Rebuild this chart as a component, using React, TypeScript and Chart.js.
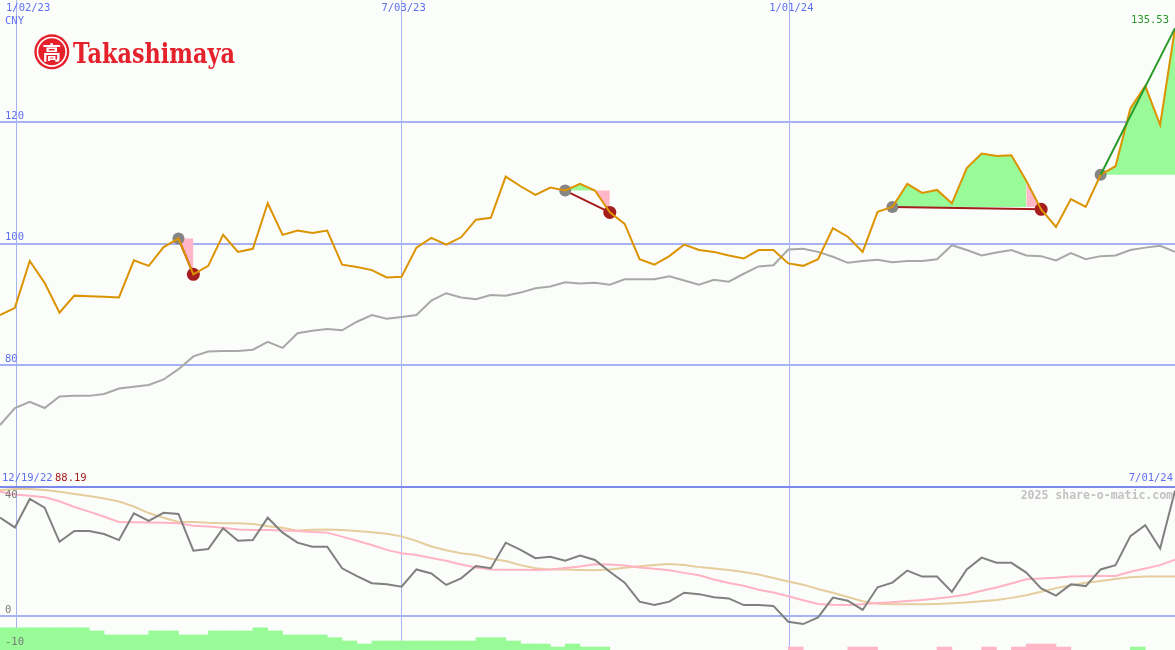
import { useEffect, useRef } from 'react';
import { Chart, registerables } from 'chart.js';

Chart.register(...registerables);

// ---------- data (weekly points, index 0 .. 79) ----------
const priceCNY = [
  88.3, 89.5, 97.2, 93.6, 88.7, 91.5, 91.4, 91.3, 91.2, 97.3,
  96.4, 99.5, 100.9, 95.0, 96.4, 101.5, 98.7, 99.2, 106.7, 101.5,
  102.2, 101.8, 102.2, 96.6, 96.2, 95.7, 94.5, 94.6, 99.4, 101.0,
  99.9, 101.1, 104.0, 104.3, 111.1, 109.5, 108.1, 109.3, 108.8, 109.9,
  108.8, 105.2, 103.3, 97.5, 96.6, 98.0, 99.9, 99.0, 98.7, 98.1,
  97.6, 99.0, 99.0, 96.8, 96.4, 97.5, 102.6, 101.2, 98.7, 105.3,
  106.1, 109.9, 108.4, 108.9, 106.7, 112.5, 114.9, 114.5, 114.6, 110.4,
  105.7, 102.8, 107.4, 106.1, 111.4, 112.8, 122.3, 126.0, 119.6, 135.53,
];

const benchmarkIndex = [
  70.2, 73.0, 74.0, 73.0, 74.9, 75.0, 75.0, 75.3, 76.2, 76.5,
  76.8, 77.7, 79.4, 81.5, 82.3, 82.4, 82.4, 82.6, 83.9, 82.9,
  85.3, 85.7, 86.0, 85.8, 87.2, 88.3, 87.7, 88.0, 88.3, 90.7,
  91.9, 91.2, 90.9, 91.6, 91.5, 92.0, 92.7, 93.0, 93.7, 93.5,
  93.6, 93.3, 94.2, 94.2, 94.2, 94.7, 94.0, 93.3, 94.1, 93.8,
  95.1, 96.3, 96.5, 99.1, 99.2, 98.7, 97.9, 96.9, 97.2, 97.4,
  97.0, 97.2, 97.2, 97.5, 99.8, 99.0, 98.1, 98.6, 99.0, 98.1,
  98.0, 97.3, 98.5, 97.5, 98.0, 98.1, 99.0, 99.4, 99.7, 98.7,
];

const momentum = [
  34.1, 30.7, 40.6, 37.6, 25.7, 29.5, 29.5, 28.4, 26.3, 35.6,
  33.0, 35.8, 35.4, 22.6, 23.2, 30.4, 26.1, 26.3, 34.1, 28.9,
  25.4, 24.0, 24.0, 16.5, 13.8, 11.3, 10.9, 10.1, 16.1, 14.7,
  10.7, 13.0, 17.3, 16.5, 25.4, 22.9, 20.0, 20.5, 19.1, 20.9,
  19.4, 15.3, 11.5, 4.9, 3.7, 4.9, 8.0, 7.5, 6.4, 6.0,
  3.7, 3.7, 3.4, -2.1, -2.9, -0.6, 6.3, 5.2, 2.0, 9.9,
  11.5, 15.7, 13.6, 13.6, 8.3, 16.1, 20.2, 18.4, 18.4, 15.0,
  9.5, 7.0, 10.9, 10.3, 16.1, 17.6, 27.7, 31.5, 23.4, 43.5,
];

const momentumFastAvg = [
  43.1, 42.2, 41.7, 41.2, 39.8, 37.8, 36.2, 34.4, 32.6, 32.5,
  32.4, 32.3, 32.2, 31.3, 31.0, 30.6, 30.0, 29.8, 29.8, 29.6,
  29.5, 29.1, 28.9, 27.5, 26.1, 24.6, 22.9, 21.7, 21.1, 20.1,
  19.1, 17.8, 16.8, 16.1, 16.0, 16.0, 15.9, 16.1, 16.6, 17.1,
  17.9, 17.8, 17.5, 16.8, 16.3, 15.8, 14.9, 14.1, 12.6, 11.4,
  10.4, 9.0, 8.1, 6.8, 5.4, 4.1, 3.8, 3.7, 4.0, 4.4,
  4.7, 5.1, 5.5, 6.0, 6.6, 7.4, 8.7, 9.8, 11.2, 12.7,
  12.9, 13.2, 13.6, 13.7, 13.8, 13.8, 15.3, 16.4, 17.6, 19.5,
];

const momentumSlowAvg = [
  43.7, 44.1, 44.1, 43.7, 43.1, 42.3, 41.6, 40.8, 39.7, 38.0,
  35.7, 34.1, 32.6, 32.6, 32.3, 32.2, 32.2, 31.9, 31.1, 30.6,
  29.6, 29.9, 30.0, 29.8, 29.5, 29.0, 28.5, 27.6, 26.0, 24.1,
  22.8, 21.7, 21.1, 19.8, 19.0, 17.6, 16.5, 16.1, 16.1, 15.9,
  15.8, 16.1, 16.7, 17.2, 17.6, 18.0, 17.6, 16.9, 16.4, 15.9,
  15.2, 14.3, 13.1, 11.9, 10.8, 9.3, 8.0, 6.5, 5.0, 4.2,
  4.0, 4.0, 4.0, 4.1, 4.3, 4.6, 5.0, 5.5, 6.2, 7.1,
  8.3, 9.6, 10.6, 11.5, 12.1, 12.8, 13.4, 13.6, 13.6, 13.6,
];

const greenBarTop: (number | null)[] = [
  -4.2, -4.2, -4.2, -4.2, -4.2, -4.2, -5.3, -6.7, -6.7, -6.7,
  -5.3, -5.3, -6.7, -6.7, -5.3, -5.3, -5.3, -4.2, -5.3, -6.7,
  -6.7, -6.7, -7.65, -8.8, -9.85, -8.8, -8.8, -8.8, -8.8, -8.8,
  -8.8, -8.8, -7.65, -7.65, -8.8, -9.85, -9.85, -10.9, -9.85, -10.9,
  -10.9, null, null, null, null, null, null, null, null, null,
  null, null, null, null, null, null, null, null, null, null,
  null, null, null, null, null, null, null, null, null, null,
  null, null, null, null, null, null, -10.9, null, null, null,
];

const pinkBarTop: (number | null)[] = [
  null, null, null, null, null, null, null, null, null, null,
  null, null, null, null, null, null, null, null, null, null,
  null, null, null, null, null, null, null, null, null, null,
  null, null, null, null, null, null, null, null, null, null,
  null, null, null, null, null, null, null, null, null, null,
  null, null, null, -10.9, null, null, null, -10.9, -10.9, null,
  null, null, null, -10.9, null, null, -10.9, null, -10.9, -9.85,
  -9.85, -10.9, null, null, null, null, null, null, null, null,
];

const buyIdx = [12, 38, 60, 74];
const sellIdx = [13, 41, 70];

const priceTicks = [80, 100, 120];
const oscTicks = [40, 0, -10];
const dateTickPos = [1.11, 27.0, 53.07];
const dateTickLabels = ['1/02/23', '7/03/23', '1/01/24'];
const currencyLabel = 'CNY';
const startDateLabel = '12/19/22';
const startValueLabel = '88.19';
const endDateLabel = '7/01/24';
const lastPriceLabel = '135.53';
const watermark = '2025 share-o-matic.com';
const brand = 'Takashimaya';

// ---------- style ----------
const W = 1175;
const TOP_H = 487;
const BOT_TOP = 470;
const BOT_H = 180;
const BOT_PAD = 17;
const PRICE_MIN = 60;
const PRICE_MAX = 140.16;
const OSC_MIN = -11.93;
const OSC_MAX = 44.77;
const BAR_BASE = -12.5;

const BG = '#fbfdfa';
const GRID = '#a6b2f4';
const GRID_DARK = '#7c88ec';
const LABEL_BLUE = '#5f6ff2';
const ORANGE = '#dc9300';
const BENCH = '#a8a8a8';
const DARK = '#808080';
const PINK_LINE = '#ffb3c4';
const TAN_LINE = '#e6cd9e';
const GREEN_FILL = '#98fb98';
const PINK_FILL = '#ffb6c6';
const RED_DOT = '#a51d1d';
const GRAY_DOT = '#858585';
const TREND_GREEN = '#2a9a2a';
const BRAND_RED = '#e5212b';
const MONO = '"DejaVu Sans Mono", monospace';

const pts = (arr: number[], from: number, to: number) => {
  const out: { x: number; y: number }[] = [];
  for (let i = from; i <= to; i++) out.push({ x: i, y: arr[i] });
  return out;
};

const lineDs = (data: any[], color: string, order: number, width = 2) => ({
  type: 'line',
  data,
  borderColor: color,
  borderWidth: width,
  pointRadius: 0,
  tension: 0,
  fill: false,
  order,
});

const fillDs = (from: number, to: number, level: number, color: string) => ({
  type: 'line',
  data: pts(priceCNY, from, to),
  borderColor: 'rgba(0,0,0,0)',
  borderWidth: 0,
  pointRadius: 0,
  tension: 0,
  fill: { target: { value: level }, above: color, below: color },
  order: 5,
});

const xScaleOpts = () => ({
  type: 'linear',
  min: 0,
  max: priceCNY.length - 1,
  offset: false,
  ticks: { display: false },
  border: { display: false },
  grid: { color: GRID, lineWidth: 1, drawTicks: false, offset: false },
  afterBuildTicks: (s: any) => {
    s.ticks = dateTickPos.map((v) => ({ value: v }));
  },
});

const topPlugin = {
  id: 'topText',
  afterDraw(chart: any) {
    const { ctx } = chart;
    const xs = chart.scales.x;
    const ys = chart.scales.y;
    ctx.save();
    ctx.font = `10.5px ${MONO}`;
    ctx.textBaseline = 'middle';
    ctx.fillStyle = LABEL_BLUE;
    dateTickPos.forEach((p, k) => {
      const w = ctx.measureText(dateTickLabels[k]).width;
      let left = xs.getPixelForValue(p) + 2 - w / 2;
      if (left < 6) left = 6;
      ctx.textAlign = 'left';
      ctx.fillText(dateTickLabels[k], left, 8.5);
    });
    ctx.textAlign = 'left';
    ctx.fillText(currencyLabel, 5, 21);
    priceTicks.forEach((v) => {
      ctx.fillText(String(v), 5, ys.getPixelForValue(v) - 6.5);
    });
    const last = priceCNY.length - 1;
    ctx.fillStyle = TREND_GREEN;
    ctx.textAlign = 'right';
    ctx.fillText(lastPriceLabel, xs.getPixelForValue(last) - 6, ys.getPixelForValue(priceCNY[last]) - 8);

    // brand logo
    const cx = 51.8, cy = 51.8;
    ctx.fillStyle = BRAND_RED;
    ctx.beginPath();
    ctx.arc(cx, cy, 17.5, 0, Math.PI * 2);
    ctx.fill();
    ctx.strokeStyle = '#ffffff';
    ctx.lineWidth = 1.6;
    ctx.beginPath();
    ctx.arc(cx, cy, 14.3, 0, Math.PI * 2);
    ctx.stroke();
    ctx.fillStyle = '#ffffff';
    ctx.font = 'bold 19px "Noto Sans CJK JP", sans-serif';
    ctx.textAlign = 'center';
    ctx.textBaseline = 'middle';
    ctx.fillText('高', cx, cy + 1);
    ctx.fillStyle = BRAND_RED;
    ctx.font = 'bold 27px "DejaVu Serif", serif';
    ctx.textAlign = 'left';
    ctx.textBaseline = 'alphabetic';
    const bw = ctx.measureText(brand).width;
    ctx.translate(73, 62.7);
    ctx.scale(162 / bw, 1.05);
    ctx.fillText(brand, 0, 0);
    ctx.restore();
  },
};

const bottomPlugin = {
  id: 'bottomText',
  afterDraw(chart: any) {
    const { ctx } = chart;
    const ys = chart.scales.y;
    ctx.save();
    ctx.font = `10.5px ${MONO}`;
    ctx.textBaseline = 'middle';
    ctx.textAlign = 'left';
    ctx.fillStyle = LABEL_BLUE;
    ctx.fillText(startDateLabel, 2, 8.5);
    ctx.fillStyle = RED_DOT;
    ctx.fillText(startValueLabel, 55, 8.5);
    ctx.fillStyle = LABEL_BLUE;
    ctx.textAlign = 'right';
    ctx.fillText(endDateLabel, 1173, 8.5);
    ctx.fillStyle = '#c2c2c2';
    ctx.font = `bold 11.5px ${MONO}`;
    ctx.fillText(watermark, 1173, 26);
    ctx.font = `10.5px ${MONO}`;
    ctx.textAlign = 'left';
    ctx.fillStyle = '#7a7a7a';
    oscTicks.forEach((v) => {
      const py = ys.getPixelForValue(v);
      ctx.fillText(String(v), 5, v < 0 ? py - 2.5 : py - 5.5);
    });
    ctx.restore();
  },
};

export default function App() {
  const topRef = useRef<HTMLCanvasElement | null>(null);
  const botRef = useRef<HTMLCanvasElement | null>(null);

  useEffect(() => {
    const last = priceCNY.length - 1;
    const openBuy = buyIdx[buyIdx.length - 1];

    const topDatasets: any[] = [];
    topDatasets.push(lineDs([{ x: openBuy, y: priceCNY[openBuy] }, { x: last, y: priceCNY[last] }], TREND_GREEN, 0));
    topDatasets.push(lineDs(pts(priceCNY, 0, last), ORANGE, 1));
    topDatasets.push({
      type: 'line',
      data: sellIdx.map((i) => ({ x: i, y: priceCNY[i] })),
      showLine: false,
      pointRadius: 6.5,
      pointBackgroundColor: RED_DOT,
      pointBorderWidth: 0,
      order: 2,
    });
    topDatasets.push({
      type: 'line',
      data: buyIdx.map((i) => ({ x: i, y: priceCNY[i] })),
      showLine: false,
      pointRadius: 6,
      pointBackgroundColor: GRAY_DOT,
      pointBorderWidth: 0,
      order: 3,
    });
    sellIdx.forEach((s, k) => {
      const b = buyIdx[k];
      topDatasets.push(lineDs([{ x: b, y: priceCNY[b] }, { x: s, y: priceCNY[s] }], RED_DOT, 4));
    });
    buyIdx.forEach((b, k) => {
      const level = priceCNY[b];
      const s = sellIdx[k];
      if (s === undefined) {
        topDatasets.push(fillDs(b, last, level, GREEN_FILL));
      } else {
        if (s - 1 > b) topDatasets.push(fillDs(b, s - 1, level, GREEN_FILL));
        topDatasets.push(fillDs(s - 1, s, level, PINK_FILL));
      }
    });
    topDatasets.push(lineDs(pts(benchmarkIndex, 0, last), BENCH, 6));

    const top = new Chart(topRef.current as HTMLCanvasElement, {
      type: 'line',
      data: { datasets: topDatasets },
      options: {
        animation: false,
        responsive: false,
        devicePixelRatio: 1,
        events: [],
        layout: { padding: 0, autoPadding: false },
        plugins: { legend: { display: false }, tooltip: { enabled: false } },
        scales: {
          x: xScaleOpts() as any,
          y: {
            type: 'linear',
            min: PRICE_MIN,
            max: PRICE_MAX,
            ticks: { display: false },
            border: { display: false },
            grid: { color: GRID, lineWidth: 2, drawTicks: false },
            afterBuildTicks: (s: any) => {
              s.ticks = priceTicks.map((v) => ({ value: v }));
            },
          } as any,
        },
      } as any,
      plugins: [topPlugin],
    } as any);

    const barData = (arr: (number | null)[]) =>
      arr
        .map((v, i) => (v === null ? null : { x: i + 0.5, y: [BAR_BASE, v] }))
        .filter((d) => d !== null);

    const bot = new Chart(botRef.current as HTMLCanvasElement, {
      type: 'line',
      data: {
        datasets: [
          lineDs(pts(momentum, 0, last), DARK, 0),
          lineDs(pts(momentumFastAvg, 0, last), PINK_LINE, 1),
          lineDs(pts(momentumSlowAvg, 0, last), TAN_LINE, 2),
          {
            type: 'bar',
            data: barData(greenBarTop),
            backgroundColor: GREEN_FILL,
            borderWidth: 0,
            barPercentage: 1,
            categoryPercentage: 1,
            grouped: false,
            order: 3,
          },
          {
            type: 'bar',
            data: barData(pinkBarTop),
            backgroundColor: PINK_FILL,
            borderWidth: 0,
            barPercentage: 1,
            categoryPercentage: 1,
            grouped: false,
            order: 3,
          },
        ] as any,
      },
      options: {
        animation: false,
        responsive: false,
        devicePixelRatio: 1,
        events: [],
        layout: { padding: { top: BOT_PAD, left: 0, right: 0, bottom: 0 }, autoPadding: false },
        plugins: { legend: { display: false }, tooltip: { enabled: false } },
        scales: {
          x: xScaleOpts() as any,
          y: {
            type: 'linear',
            min: OSC_MIN,
            max: OSC_MAX,
            ticks: { display: false },
            border: { display: false },
            grid: {
              drawTicks: false,
              lineWidth: 2,
              color: (c: any) => (c.tick && c.tick.value === 0 ? GRID : GRID_DARK),
            },
            afterBuildTicks: (s: any) => {
              s.ticks = [{ value: 0 }, { value: OSC_MAX }];
            },
          } as any,
        },
      } as any,
      plugins: [bottomPlugin],
    } as any);

    return () => {
      top.destroy();
      bot.destroy();
    };
  }, []);

  return (
    <div
      style={{
        position: 'absolute',
        left: 0,
        top: 0,
        width: W,
        height: 650,
        background: BG,
        overflow: 'hidden',
      }}
    >
      <canvas
        ref={topRef}
        width={W}
        height={TOP_H}
        style={{ position: 'absolute', left: 0, top: 0, width: W, height: TOP_H }}
      />
      <canvas
        ref={botRef}
        width={W}
        height={BOT_H}
        style={{ position: 'absolute', left: 0, top: BOT_TOP, width: W, height: BOT_H }}
      />
    </div>
  );
}
